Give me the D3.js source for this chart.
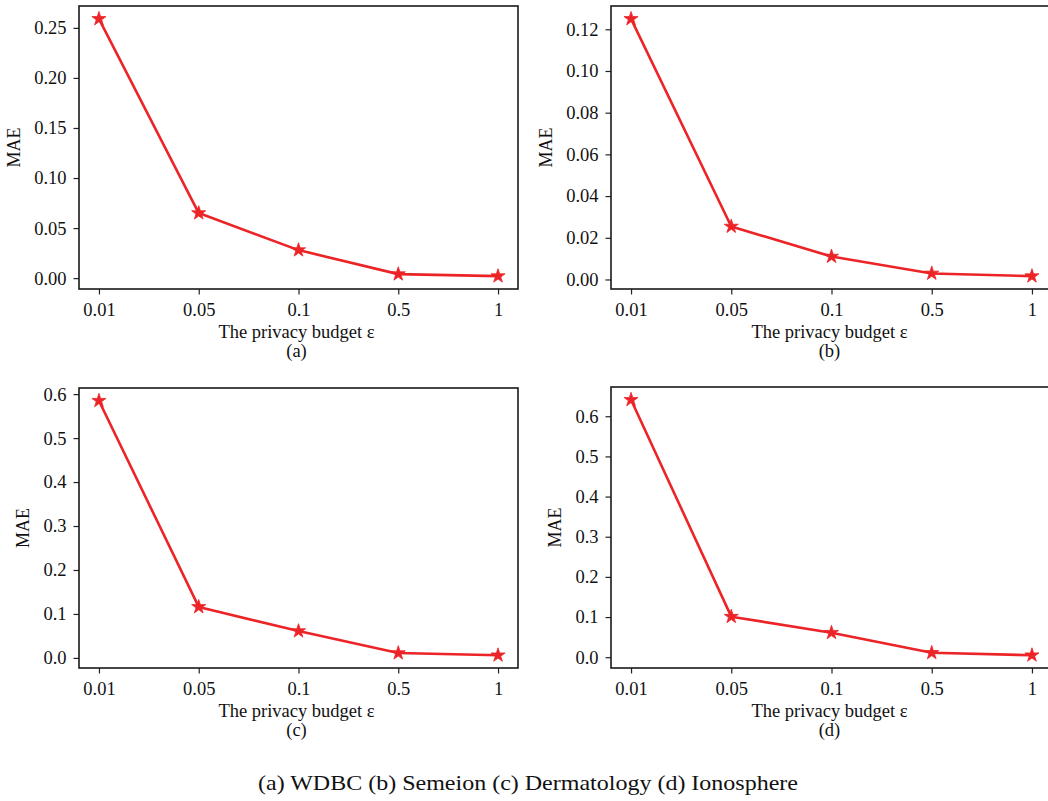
<!DOCTYPE html>
<html>
<head>
<meta charset="utf-8">
<script src="https://cdn.jsdelivr.net/npm/d3@7"></script>
<style>
  html, body { margin: 0; padding: 0; background: #fff; }
  svg { display: block; }
  text { font-family: "Liberation Serif", "Times New Roman", serif; fill: #111; }
</style>
</head>
<body>
<svg id="chart" width="1048" height="801"></svg>
<script>
// ---- data ----
const epsilons = ["0.01", "0.05", "0.1", "0.5", "1"];
const maeWDBC = [0.259, 0.065, 0.028, 0.004, 0.002];
const maeSemeion = [0.125, 0.0254, 0.011, 0.0029, 0.0016];
const maeDermatology = [0.585, 0.116, 0.061, 0.011, 0.006];
const maeIonosphere = [0.641, 0.101, 0.061, 0.011, 0.005];
const ticksWDBC = [0, 0.05, 0.10, 0.15, 0.20, 0.25];
const ticksSemeion = [0, 0.02, 0.04, 0.06, 0.08, 0.10, 0.12];
const ticksDermatology = [0, 0.1, 0.2, 0.3, 0.4, 0.5, 0.6];
const ticksIonosphere = [0, 0.1, 0.2, 0.3, 0.4, 0.5, 0.6];
const panelLabels = ["(a)", "(b)", "(c)", "(d)"];
const xTitle = "The privacy budget ε";
const yTitle = "MAE";
const caption = "(a) WDBC (b) Semeion (c) Dermatology (d) Ionosphere";

const panels = [
  { values: maeWDBC, ticks: ticksWDBC, fmt: ".2f", label: panelLabels[0], box: { l: 79, t: 6, r: 518, b: 289 } },
  { values: maeSemeion, ticks: ticksSemeion, fmt: ".2f", label: panelLabels[1], box: { l: 611, t: 6, r: 1052, b: 289 } },
  { values: maeDermatology, ticks: ticksDermatology, fmt: ".1f", label: panelLabels[2], box: { l: 79, t: 388, r: 518, b: 668 } },
  { values: maeIonosphere, ticks: ticksIonosphere, fmt: ".1f", label: panelLabels[3], box: { l: 611, t: 387, r: 1052, b: 668 } }
];

const svg = d3.select("#chart");
svg.append("rect").attr("width", 1048).attr("height", 801).attr("fill", "#fff");

const lineColor = "#ec2428";
const tickFont = 18.5;
const serif = '"Liberation Serif", "Times New Roman", serif';

panels.forEach(p => {
  const { l, t, r, b } = p.box;
  const x = d3.scalePoint().domain(epsilons).range([l, r]).padding(0.2);
  const mn = d3.min(p.values), mx = d3.max(p.values);
  const m = (mx - mn) * 0.05;
  const y = d3.scaleLinear().domain([mn - m, mx + m]).range([b, t]);

  const g = svg.append("g");

  // y axis
  const yAxis = g.append("g").attr("transform", `translate(${l},0)`)
    .call(d3.axisLeft(y).tickValues(p.ticks).tickFormat(d3.format(p.fmt)).tickSize(5.5).tickPadding(7));
  yAxis.attr("font-family", serif);
  yAxis.select(".domain").remove();
  yAxis.selectAll("line").attr("stroke", "#222").attr("stroke-width", 1.2);
  yAxis.selectAll("text").attr("font-size", tickFont).attr("fill", "#111").style("font-family", serif);

  // x axis
  const xAxis = g.append("g").attr("transform", `translate(0,${b})`)
    .call(d3.axisBottom(x).tickSize(5.5).tickPadding(8));
  xAxis.attr("font-family", serif);
  xAxis.select(".domain").remove();
  xAxis.selectAll("line").attr("stroke", "#222").attr("stroke-width", 1.2);
  xAxis.selectAll("text").attr("font-size", tickFont).attr("fill", "#111").style("font-family", serif);

  // frame
  g.append("rect").attr("x", l).attr("y", t).attr("width", r - l).attr("height", b - t)
    .attr("fill", "none").attr("stroke", "#1a1a1a").attr("stroke-width", 1.6);

  // line
  const line = d3.line().x((d, i) => x(epsilons[i])).y(d => y(d));
  g.append("path").datum(p.values).attr("d", line)
    .attr("fill", "none").attr("stroke", lineColor).attr("stroke-width", 2.6)
    .attr("stroke-linejoin", "round");

  // star markers
  g.selectAll(".star").data(p.values).enter().append("path")
    .attr("d", d3.symbol().type(d3.symbolStar).size(62))
    .attr("transform", (d, i) => `translate(${x(epsilons[i])},${y(d)})`)
    .attr("fill", lineColor).attr("stroke", lineColor).attr("stroke-width", 0.8);

  // y title
  let minX = l;
  yAxis.selectAll("text").each(function () {
    const bb = this.getBBox();
    minX = Math.min(minX, bb.x + l);
  });
  const cy = (t + b) / 2;
  g.append("text").attr("transform", `translate(${minX - 14},${cy}) rotate(-90)`)
    .attr("text-anchor", "middle").attr("font-size", 18).text(yTitle);

  // x title + panel label
  g.append("text").attr("x", (l + r) / 2 - 2).attr("y", b + 49)
    .attr("text-anchor", "middle").attr("font-size", 18.5).text(xTitle);
  g.append("text").attr("x", (l + r) / 2 - 2).attr("y", b + 68)
    .attr("text-anchor", "middle").attr("font-size", 18.5).text(p.label);
});

svg.append("text").attr("x", 258).attr("y", 790)
  .attr("font-size", 21).attr("textLength", 540).attr("lengthAdjust", "spacingAndGlyphs")
  .text(caption);
</script>
</body>
</html>
